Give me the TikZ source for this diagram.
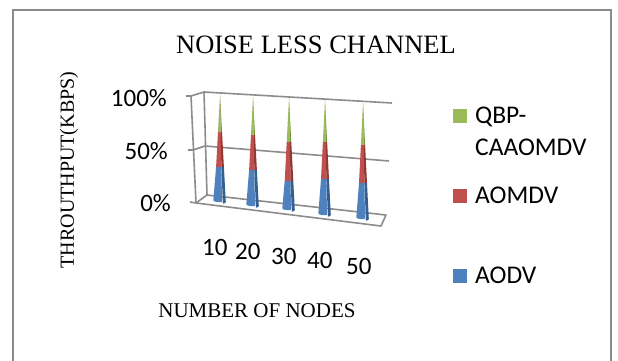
\documentclass[tikz,border=0pt]{standalone}
\usepackage{fontspec}
\setmainfont{Liberation Serif}
\newfontfamily\calfont{Carlito}
\definecolor{frameclr}{HTML}{8A8A8A}
\definecolor{gridclr}{HTML}{8C8C8C}
\definecolor{qgreen}{HTML}{9BBB59}
\definecolor{qgreenD}{HTML}{76923C}
\definecolor{qred}{HTML}{C0504D}
\definecolor{qredD}{HTML}{943634}
\definecolor{qblue}{HTML}{4F81BD}
\definecolor{qblueD}{HTML}{365F91}
\tikzset{
  gridline/.style={draw=gridclr, line width=1.6pt, line join=round},
  ticklbl/.style={font=\calfont\fontsize{25}{28}\selectfont, inner sep=0pt},
  legtxt/.style={font=\calfont\fontsize{25.5}{32}\selectfont, inner sep=0pt, anchor=base west, align=left},
  legbox/.style={minimum size=14pt, inner sep=0pt, anchor=north west},
}
% one tapered stack: #1 centre x, #2 apex y, #3 base y, #4 green/red y, #5 red/blue y
\newcommand\stackcone[5]{%
  \pgfmathsetmacro\wg{5.8*(#4-#2)/(#3-#2)}%
  \pgfmathsetmacro\wr{5.8*(#5-#2)/(#3-#2)}%
  \def\wb{5.8}%
  \def\k{0.35}%
  % green tip
  \fill[qgreen] (#1,#2) -- (#1+\k*\wg,#4) -- (#1-\wg,#4) -- cycle;
  \fill[qgreenD] (#1,#2) -- (#1+\wg,#4) -- (#1+\k*\wg,#4) -- cycle;
  % red band
  \fill[qred] (#1-\wg,#4) -- (#1+\k*\wg,#4) -- (#1+\k*\wr,#5) -- (#1-\wr,#5) -- cycle;
  \fill[qredD] (#1+\k*\wg,#4) -- (#1+\wg,#4) -- (#1+\wr,#5) -- (#1+\k*\wr,#5) -- cycle;
  % blue base
  \fill[qblue] (#1-\wr,#5) -- (#1+\k*\wr,#5) -- (#1+\k*\wb,#3) arc[start angle=-60, end angle=-180, x radius=\wb pt, y radius=2pt] -- cycle;
  \fill[qblueD] (#1+\k*\wr,#5) -- (#1+\wr,#5) -- (#1+\wb,#3) arc[start angle=0, end angle=-60, x radius=\wb pt, y radius=2pt] -- cycle;
}
\begin{document}
\begin{tikzpicture}[x=1pt,y=-1pt]
\useasboundingbox (0,0) rectangle (618,360);
\fill[white] (0,0) rectangle (618,360);
% outer frame (open at the bottom edge of the page)
\draw[frameclr, line width=1.5pt] (13,365) -- (13,10) -- (611,10) -- (611,365);

% title and axis titles
\node[font=\fontsize{26.5}{30}\selectfont, anchor=base, inner sep=0pt] (title) at (316,53) {NOISE LESS CHANNEL};
\node[font=\fontsize{20}{24}\selectfont, rotate=90, inner sep=0pt] (ytitle) at (69,170) {THROUTHPUT(KBPS)};
\node[font=\fontsize{21}{24}\selectfont, anchor=base, inner sep=0pt] (xtitle) at (257,317) {NUMBER OF NODES};

% walls and floor
\draw[gridline] (186,96) -- (191,96) -- (204,92) -- (392,103);
\draw[gridline] (188,150) -- (193,150) -- (205,146) -- (389,161);
\draw[gridline] (190,202) -- (196,203) -- (207,195) -- (386,215) -- (381,226) -- (196,203);
\draw[gridline] (191,96) -- (196,203);
\draw[gridline] (204,92) -- (207,195);

% percentage axis
\node[ticklbl, anchor=base east] (p100) at (167,106) {100\%};
\node[ticklbl, anchor=base east] (p50) at (168,159) {50\%};
\node[ticklbl, anchor=base east] (p0) at (171,211) {0\%};

% stacks
\stackcone{220}{95}{202}{132}{167}
\stackcone{253}{97}{206}{135}{170}
\stackcone{289}{98}{210}{142}{181}
\stackcone{325}{100}{215}{142}{179}
\stackcone{363}{103}{219}{145}{183}

% node-count labels
\node[ticklbl, anchor=base west] (n10) at (202,255) {10};
\node[ticklbl, anchor=base west] (n20) at (235,259) {20};
\node[ticklbl, anchor=base west] (n30) at (271,264) {30};
\node[ticklbl, anchor=base west] (n40) at (307,268) {40};
\node[ticklbl, anchor=base west] (n50) at (346,274) {50};

% legend
\node[legbox, fill=qgreen] (kq) at (453,109) {};
\node[legtxt] (tq) at (475,155) {QBP-\\CAAOMDV};
\node[legbox, fill=qred] (ka) at (453,189) {};
\node[legtxt] (ta) at (475,203) {AOMDV};
\node[legbox, fill=qblue] (kb) at (453,269) {};
\node[legtxt] (tb) at (475,283) {AODV};
\end{tikzpicture}
\end{document}
